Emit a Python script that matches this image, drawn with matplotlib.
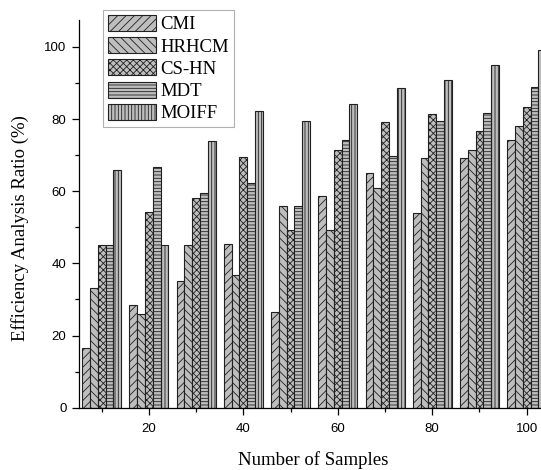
import numpy as np
import matplotlib
matplotlib.use("Agg")
import matplotlib.pyplot as plt
from matplotlib.ticker import MultipleLocator

samples = [10, 20, 30, 40, 50, 60, 70, 80, 90, 100]
methods = ["CMI", "HRHCM", "CS-HN", "MDT", "MOIFF"]

cmi = [16.5, 28.4, 35.2, 45.5, 26.4, 58.7, 65.1, 54.1, 69.1, 74.3]
hrhcm = [33.1, 25.9, 45.1, 36.8, 55.9, 49.2, 60.9, 69.1, 71.4, 78.1]
cs_hn = [45.1, 54.3, 58.2, 69.4, 49.2, 71.4, 79.2, 81.4, 76.6, 83.4]
mdt = [45.1, 66.8, 59.6, 62.3, 55.9, 74.3, 69.7, 79.4, 81.8, 88.9]
moiff = [65.9, 45.1, 74.0, 82.2, 79.4, 84.3, 88.5, 90.8, 95.1, 99.1]

hatches = ["////", "\\\\\\\\", "xxxxx", "-----", "|||||"]

plt.rcParams["hatch.linewidth"] = 0.6
plt.rcParams["hatch.color"] = "#303030"

fig = plt.figure(figsize=(5.41, 4.70), dpi=100)
ax = fig.add_axes([0.146, 0.1326, 0.854, 0.8244])

x = np.array(samples, dtype=float)
bw = 1.65
series = [cmi, hrhcm, cs_hn, mdt, moiff]
for i, (name, vals) in enumerate(zip(methods, series)):
    ax.bar(x + (i - 2) * bw, vals, width=bw, label=name,
           facecolor="#bebebe", edgecolor="#202020", linewidth=0.8,
           hatch=hatches[i])

ax.set_xlim(5.19, 103.03)
ax.set_ylim(0, 107.4)
ax.xaxis.set_major_locator(MultipleLocator(20))
ax.xaxis.set_minor_locator(MultipleLocator(10))
ax.yaxis.set_major_locator(MultipleLocator(20))
ax.yaxis.set_minor_locator(MultipleLocator(10))
ax.tick_params(which="major", direction="out", length=5, width=0.9,
               labelsize=9.5, pad=4)
ax.tick_params(axis="x", which="major", pad=6)
ax.tick_params(which="minor", direction="out", length=3, width=0.9)
for lbl in ax.get_xticklabels() + ax.get_yticklabels():
    lbl.set_fontfamily("Liberation Sans")

ax.spines["top"].set_visible(False)
ax.spines["right"].set_visible(False)
ax.spines["left"].set_linewidth(0.9)
ax.spines["bottom"].set_linewidth(0.9)

ax.set_xlabel("Number of Samples", family="Liberation Serif", fontsize=13.5)
ax.set_ylabel("Efficiency Analysis Ratio (%)", family="Liberation Serif",
              fontsize=13.5)
ax.xaxis.set_label_coords(0.5076, -0.112)
ax.yaxis.set_label_coords(-0.108, 0.4635)

leg = ax.legend(loc="upper left", bbox_to_anchor=(103 / 541, 1 - 10 / 470),
                bbox_transform=fig.transFigure, fancybox=False,
                frameon=True, edgecolor="#b0b0b0", framealpha=1,
                prop={"family": "Liberation Serif", "size": 13.5},
                handlelength=2.55, handleheight=0.95, handletextpad=0.25,
                labelspacing=0.2, borderpad=0.25, borderaxespad=0)
leg.get_frame().set_linewidth(0.8)

fig.savefig("out.png", dpi=100)
